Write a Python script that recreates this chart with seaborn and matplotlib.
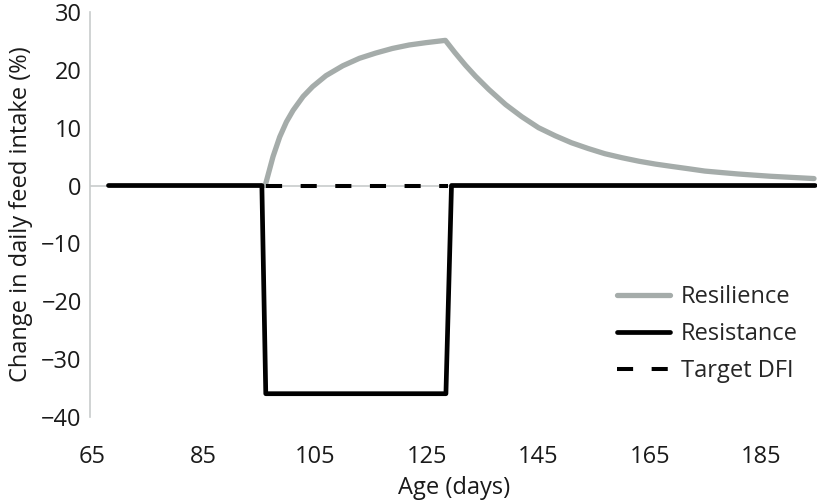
import matplotlib
matplotlib.use("Agg")
import matplotlib.pyplot as plt
import seaborn as sns

# Valeurs
resilience_days = [96, 97.4, 98.6, 99.8, 101.0, 102.8, 104.5, 106.9, 109.9, 112.9, 115.8, 118.8,
                   121.8, 124.8, 128.3,
                   130.0, 131.9, 133.7, 136.1, 139.1, 142.0, 145.0, 148.0, 150.9, 153.9, 156.9,
                   160.0, 163.0, 166.0, 168.9, 171.9, 174.8, 177.7, 180.7, 183.6, 186.6, 190.5, 194.4]
resilience_vals = [0, 5.0, 8.4, 11.0, 13.0, 15.4, 17.1, 19.0, 20.7, 22.0, 22.9, 23.7,
                   24.3, 24.7, 25.1,
                   23.0, 20.8, 18.9, 16.6, 14.0, 11.9, 10.0, 8.6, 7.4, 6.4, 5.5,
                   4.8, 4.2, 3.7, 3.3, 2.9, 2.5, 2.25, 2.0, 1.8, 1.6, 1.4, 1.2]

resistance_days = [67.9, 95.4, 96.1, 128.4, 129.4, 194.6]
resistance_vals = [0, 0, -36, -36, 0, 0]

target_days = [96.2, 128.8]
target_vals = [0, 0]

x_ticks = [65, 85, 105, 125, 145, 165, 185]
y_ticks = [30, 20, 10, 0, -10, -20, -30, -40]

sns.set_style("white")
plt.rcParams['font.family'] = ['Open Sans', 'DejaVu Sans']

fig = plt.figure(figsize=(8.19, 5.01), dpi=100)
ax = fig.add_axes([0.110, 0.168, 0.888, 0.808])

ax.axhline(0, color="#c8cccc", lw=1.2, zorder=1)

sns.lineplot(x=resilience_days, y=resilience_vals, ax=ax, color="#a5acaa", lw=3.8,
             label="Resilience", sort=False, zorder=3)
sns.lineplot(x=resistance_days, y=resistance_vals, ax=ax, color="black", lw=3.4,
             label="Resistance", sort=False, zorder=4, solid_capstyle="round")
sns.lineplot(x=target_days, y=target_vals, ax=ax, color="black", lw=2.9,
             label="Target DFI", sort=False, zorder=4, linestyle=(0, (4.0, 4.6)))

ax.set_xlim(64.6, 195)
ax.set_ylim(-40, 30)
ax.set_xticks(x_ticks)
ax.set_yticks(y_ticks)
ax.set_yticklabels([("\u2212" + str(-v)) if v < 0 else str(v) for v in y_ticks])

for s in ["top", "right", "bottom"]:
    ax.spines[s].set_visible(False)
ax.spines["left"].set_color("#c8cccc")
ax.spines["left"].set_linewidth(1.2)
ax.tick_params(axis="x", length=0, pad=20, labelsize=17, labelcolor="#1a1a1a")
ax.tick_params(axis="y", length=0, pad=6, labelsize=17, labelcolor="#1a1a1a")

ax.set_xlabel("Age (days)", fontsize=17, color="#1a1a1a", labelpad=5)
ax.set_ylabel("Change in daily feed intake (%)", fontsize=17, color="#1a1a1a", labelpad=6)

leg = ax.legend(loc="upper left", bbox_to_anchor=(0.725, 0.325), frameon=False, fontsize=17,
                handlelength=2.25, labelspacing=0.55, handletextpad=0.45,
                borderpad=0, borderaxespad=0)

fig.savefig("out.png", dpi=100)
